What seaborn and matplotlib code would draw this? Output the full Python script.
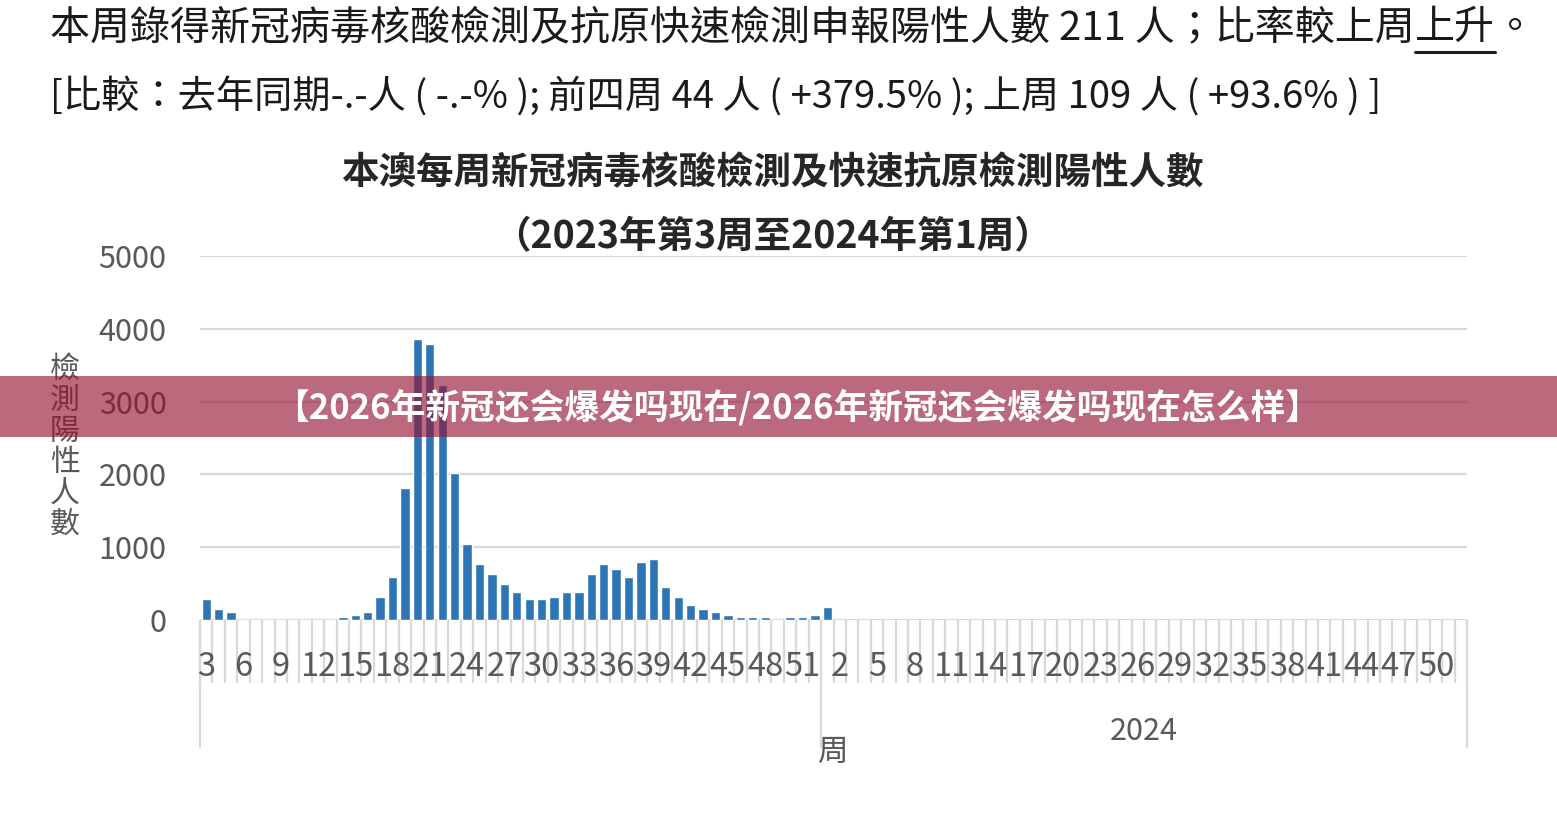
import numpy as np
import pandas as pd
import matplotlib
matplotlib.use("Agg")
import matplotlib.pyplot as plt
import matplotlib.transforms as mtransforms
from matplotlib.lines import Line2D
from matplotlib.patches import Rectangle
import seaborn as sns

# ---------------- data ----------------
weeks_2023 = [3, 4, 5, 6, 7, 8, 9, 10, 11, 12, 13, 14, 15, 16, 17, 18, 19, 20, 21, 22,
              23, 24, 25, 26, 27, 28, 29, 30, 31, 32, 33, 34, 35, 36, 37, 38, 39, 40,
              41, 42, 43, 44, 45, 46, 47, 48, 49, 50, 51, 52]
cases_2023 = [285, 147, 110, 0, 0, 0, 0, 0, 0, 0, 0, 40, 75, 110, 320, 595, 1810, 3860,
              3790, 3230, 2015, 1045, 770, 630, 495, 390, 285, 285, 320, 390, 390, 630,
              770, 700, 595, 800, 838, 457, 316, 210, 147, 110, 73, 40, 40, 40, 0, 40,
              40, 75]
weeks_2024 = [1, 2, 3, 4, 5, 6, 7, 8, 9, 10, 11, 12, 13, 14, 15, 16, 17, 18, 19, 20,
              21, 22, 23, 24, 25, 26, 27, 28, 29, 30, 31, 32, 33, 34, 35, 36, 37, 38,
              39, 40, 41, 42, 43, 44, 45, 46, 47, 48, 49, 50, 51, 52]
cases_2024 = [175]  # only week 1 reported so far
year_label_2024 = "2024"
y_ticks = [0, 1000, 2000, 3000, 4000, 5000]

headline = "本周錄得新冠病毒核酸檢測及抗原快速檢測申報陽性人數 211 人；比率較上周"
headline_end = "上升"
headline_tail = "。"
compare_line = "[比較：去年同期-.-人 ( -.-% ); 前四周 44 人 ( +379.5% ); 上周 109 人 ( +93.6% ) ]"
title1 = "本澳每周新冠病毒核酸檢測及快速抗原檢測陽性人數"
title2 = "（2023年第3周至2024年第1周）"
ylabel = "檢測陽性人數"
xlabel = "周"
banner = "【2026年新冠还会爆发吗现在/2026年新冠还会爆发吗现在怎么样】"

# ---------------- frame ----------------
keys = [f"2023-{w}" for w in weeks_2023] + [f"2024-{w}" for w in weeks_2024]
week_of_key = weeks_2023 + weeks_2024
vals = cases_2023 + cases_2024 + [np.nan] * (len(weeks_2024) - len(cases_2024))
df = pd.DataFrame({"key": keys, "cases": vals})

sns.set_theme(style="white")
plt.rcParams['font.family'] = ['Noto Sans CJK TC', 'DejaVu Sans']

W, H = 1557, 814
fig = plt.figure(figsize=(W / 100, H / 100), dpi=100)
fig.patch.set_facecolor("white")
ax = fig.add_axes([200 / W, 1 - 620 / H, 1267 / W, 364 / H])

sns.barplot(data=df, x="key", y="cases", order=keys, color="#2E75B6",
            saturation=1, width=0.75, errorbar=None, ax=ax, zorder=3)

n = len(keys)
ax.set_xlim(-0.5, n - 0.5)
ax.set_ylim(0, 5000)
ax.set_yticks(y_ticks)
ax.set_yticklabels([str(t) for t in y_ticks])
ax.yaxis.grid(True, color="#D9D9D9", lw=1.6)
ax.xaxis.grid(False)
ax.set_axisbelow(True)
for s in ax.spines.values():
    s.set_visible(False)
ax.tick_params(axis='y', length=0, pad=24, labelsize=22, labelcolor='#595959')

tick_idx = list(range(0, n, 3))
ax.set_xticks(tick_idx)
ax.set_xticklabels([str(week_of_key[i]) for i in tick_idx])
ax.tick_params(axis='x', length=0, pad=22, labelsize=23.5, labelcolor='#595959')
ax.set_xlabel("")
ax.set_ylabel("")

trans = mtransforms.blended_transform_factory(ax.transData, ax.transAxes)
ax_h = 364
bounds = [i - 0.5 for i in range(n + 1)]
year_bounds = [-0.5, len(weeks_2023) - 0.5, n - 0.5]
ax.vlines(bounds, -63 / ax_h, 0, transform=trans, colors="#D9D9D9", lw=1.6,
          clip_on=False, zorder=0.2)
ax.vlines(year_bounds, -128 / ax_h, 0, transform=trans, colors="#D9D9D9", lw=1.6,
          clip_on=False, zorder=0.2)

x_2024 = (len(weeks_2023) + n - 1) / 2
ax.text(x_2024, -(731 - 620) / ax_h, year_label_2024, transform=trans, ha="center",
        va="center", fontsize=22, color="#595959")
ax.text(0.5, -(752 - 620) / ax_h, xlabel, transform=ax.transAxes, ha="center",
        va="center", fontsize=22, color="#595959")

fig.text(65 / W, 1 - 447 / H, "\n".join(ylabel), ha="center", va="center",
         fontsize=21.5, color="#595959", linespacing=1.0)

# titles
fig.text(772 / W, 1 - 173 / H, title1, ha="center", va="center", fontsize=27,
         weight="bold", color="#262626")
fig.text(772 / W, 1 - 237 / H, title2, ha="center", va="center", fontsize=27,
         weight="bold", color="#262626")

# headline with underline
fig.canvas.draw()
renderer = fig.canvas.get_renderer()
x0 = 50 / W
yh = 1 - 28 / H
hs = 28.8
t1 = fig.text(x0, yh, headline, ha="left", va="center", fontsize=hs, color="#1a1a1a")
bb1 = t1.get_window_extent(renderer)
x1 = bb1.x1 / W
t2 = fig.text(x1, yh, headline_end, ha="left", va="center", fontsize=hs, color="#1a1a1a")
bb2 = t2.get_window_extent(renderer)
fig.text(bb2.x1 / W, yh, headline_tail, ha="left", va="center", fontsize=hs, color="#1a1a1a")
fig.add_artist(Line2D([bb2.x0 / W, bb2.x1 / W], [1 - 52 / H, 1 - 52 / H],
                      transform=fig.transFigure, color="#1a1a1a", lw=2.2))

fig.text(x0, 1 - 98 / H, compare_line, ha="left", va="center", fontsize=27.5,
         color="#1a1a1a", style="italic")

# banner overlay
fig.add_artist(Rectangle((0, 1 - 437 / H), 1, 61 / H, transform=fig.transFigure,
                         facecolor=(148 / 255, 17 / 255, 48 / 255), alpha=0.63,
                         edgecolor="none", zorder=10))
fig.text(797 / W, 1 - 408 / H, banner, ha="center", va="center", fontsize=25,
         weight="bold", color="white", zorder=11,
         family=['Noto Sans CJK SC', 'DejaVu Sans'])

fig.savefig("out.png", dpi=100)
